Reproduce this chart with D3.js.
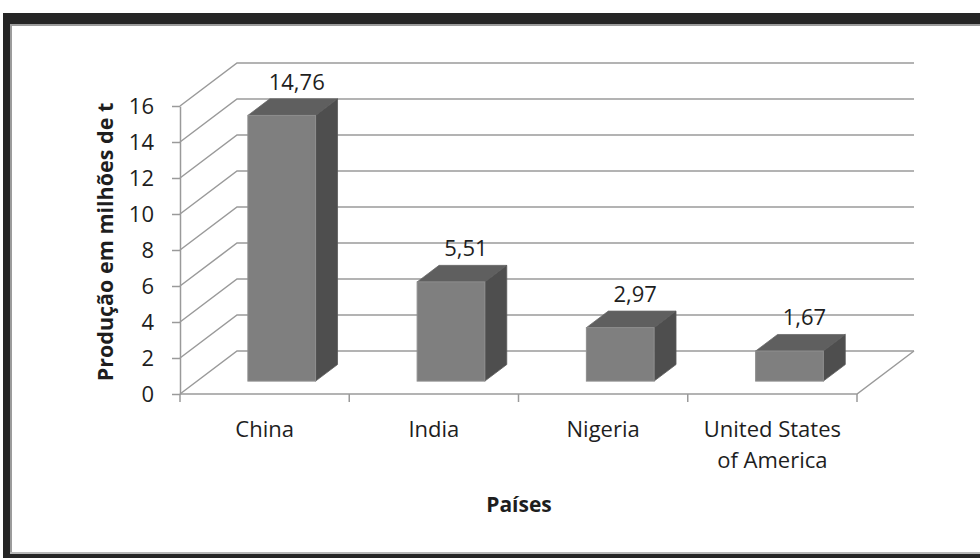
<!DOCTYPE html>
<html>
<head>
<meta charset="utf-8">
<script src="https://cdn.jsdelivr.net/npm/d3@7"></script>
<style>
  html, body { margin: 0; padding: 0; background: #fff; }
  svg { display: block; }
  text { font-family: "Open Sans", "Noto Sans", sans-serif; fill: #1e1e1e; }
</style>
</head>
<body>
<svg id="chart" width="980" height="558"></svg>
<script>
// Production by country (millions of tonnes)
const categories = ["China", "India", "Nigeria", "United States of America"];
const production = [14.76, 5.51, 2.97, 1.67];
const yTicks = [0, 2, 4, 6, 8, 10, 12, 14, 16];
const yTitle = "Produção em milhões de t";
const xTitle = "Países";

const svg = d3.select("#chart");

// Page frame: dark band on top, left and bottom with a thin grey inner edge
const frame = svg.append("g");
frame.append("rect").attr("x", 3).attr("y", 13).attr("width", 977).attr("height", 11).attr("fill", "#252525");
frame.append("rect").attr("x", 3).attr("y", 13).attr("width", 7).attr("height", 545).attr("fill", "#252525");
frame.append("rect").attr("x", 3).attr("y", 554).attr("width", 977).attr("height", 4).attr("fill", "#252525");
frame.append("rect").attr("x", 10).attr("y", 24).attr("width", 970).attr("height", 2).attr("fill", "#9c9c9c");
frame.append("rect").attr("x", 10).attr("y", 24).attr("width", 2).attr("height", 530).attr("fill", "#9c9c9c");
frame.append("rect").attr("x", 10).attr("y", 552).attr("width", 970).attr("height", 2).attr("fill", "#b8b8b8");

// Scales for the front plane of the 3-D plot
const x = d3.scaleBand().domain(categories).range([180, 857]).paddingInner(0).paddingOuter(0);
const y = d3.scaleLinear().domain([0, 16]).range([394, 106]);

// Oblique depth vector (front plane -> back wall)
const depth = { dx: 57, dy: -43 };
const barDepthStart = 0.30, barDepthEnd = 0.685;
const barWidth = x.bandwidth() / 2.5;

const gridColor = "#9a9a9a";
const grid = svg.append("g").attr("fill", "none").attr("stroke", gridColor).attr("stroke-width", 1.5);

const [x0, x1] = x.range();

// Back-wall gridlines and side-wall diagonals
yTicks.forEach(t => {
  const yf = y(t);
  grid.append("path").attr("d", d3.line()([
    [x0, yf], [x0 + depth.dx, yf + depth.dy], [x1 + depth.dx, yf + depth.dy]
  ]));
});
// Floor: front edge and right diagonal
grid.append("path").attr("d", d3.line()([
  [x0, y(0)], [x1, y(0)], [x1 + depth.dx, y(0) + depth.dy]
]));

// Front value axis
const yAxis = d3.axisLeft(y).tickValues(yTicks).tickSize(8).tickSizeOuter(0).tickPadding(18)
  .tickFormat(d3.format("d"));
const gy = svg.append("g").attr("transform", `translate(${x0},0)`).call(yAxis);
gy.select(".domain").attr("stroke", gridColor).attr("stroke-width", 1.5);
gy.selectAll(".tick line").attr("stroke", gridColor).attr("stroke-width", 1.5);
gy.selectAll(".tick text").attr("font-size", 22).attr("fill", "#1e1e1e")
  .attr("font-family", "'Open Sans', sans-serif");

// Category boundary ticks
const boundaries = categories.map(c => x(c)).concat([x1]);
svg.append("g").selectAll("line").data(boundaries).join("line")
  .attr("x1", d => d).attr("x2", d => d)
  .attr("y1", y(0)).attr("y2", y(0) + 8)
  .attr("stroke", gridColor).attr("stroke-width", 1.5);

// Category labels (wrapped onto lines)
const catLines = {
  "United States of America": ["United States", "of America"]
};
const xLabels = svg.append("g");
categories.forEach(c => {
  const lines = catLines[c] || [c];
  const t = xLabels.append("text")
    .attr("x", x(c) + x.bandwidth() / 2)
    .attr("y", 437)
    .attr("text-anchor", "middle")
    .attr("font-size", 22);
  lines.forEach((ln, i) => {
    t.append("tspan").attr("x", x(c) + x.bandwidth() / 2).attr("dy", i === 0 ? 0 : 31).text(ln);
  });
});

// 3-D columns
const fmt = d3.formatLocale({ decimal: ",", thousands: ".", grouping: [3], currency: ["", ""] }).format(".2f");
const bars = svg.append("g");
categories.forEach((c, i) => {
  const v = production[i];
  const fx = x(c) + x.bandwidth() / 2 - barWidth / 2 + depth.dx * barDepthStart;
  const fyBase = y(0) + depth.dy * barDepthStart;
  const fyTop = fyBase - (y(0) - y(v));
  const ddx = depth.dx * (barDepthEnd - barDepthStart);
  const ddy = depth.dy * (barDepthEnd - barDepthStart);
  const g = bars.append("g");
  // top face
  g.append("path").attr("d", d3.line()([
    [fx, fyTop], [fx + ddx, fyTop + ddy], [fx + barWidth + ddx, fyTop + ddy], [fx + barWidth, fyTop]
  ]) + "Z").attr("fill", "#5f5f5f").attr("stroke", "#6a6a6a").attr("stroke-width", 0.8);
  // side face
  g.append("path").attr("d", d3.line()([
    [fx + barWidth, fyTop], [fx + barWidth + ddx, fyTop + ddy], [fx + barWidth + ddx, fyBase + ddy], [fx + barWidth, fyBase]
  ]) + "Z").attr("fill", "#4e4e4e").attr("stroke", "#5a5a5a").attr("stroke-width", 0.8);
  // front face
  g.append("rect").attr("x", fx).attr("y", fyTop).attr("width", barWidth).attr("height", fyBase - fyTop)
    .attr("fill", "#7f7f7f").attr("stroke", "#8e8e8e").attr("stroke-width", 1);
  // value label
  g.append("text")
    .attr("x", fx + barWidth / 2 + 15)
    .attr("y", fyTop + ddy - 9)
    .attr("text-anchor", "middle")
    .attr("font-size", 22)
    .text(fmt(v));
});

// Axis titles
svg.append("text")
  .attr("x", 519).attr("y", 512)
  .attr("text-anchor", "middle")
  .attr("font-size", 21).attr("font-weight", "bold")
  .text(xTitle);

svg.append("text")
  .attr("transform", "translate(113,242) rotate(-90)")
  .attr("text-anchor", "middle")
  .attr("font-size", 21.5).attr("font-weight", "bold")
  .text(yTitle);
</script>
</body>
</html>
